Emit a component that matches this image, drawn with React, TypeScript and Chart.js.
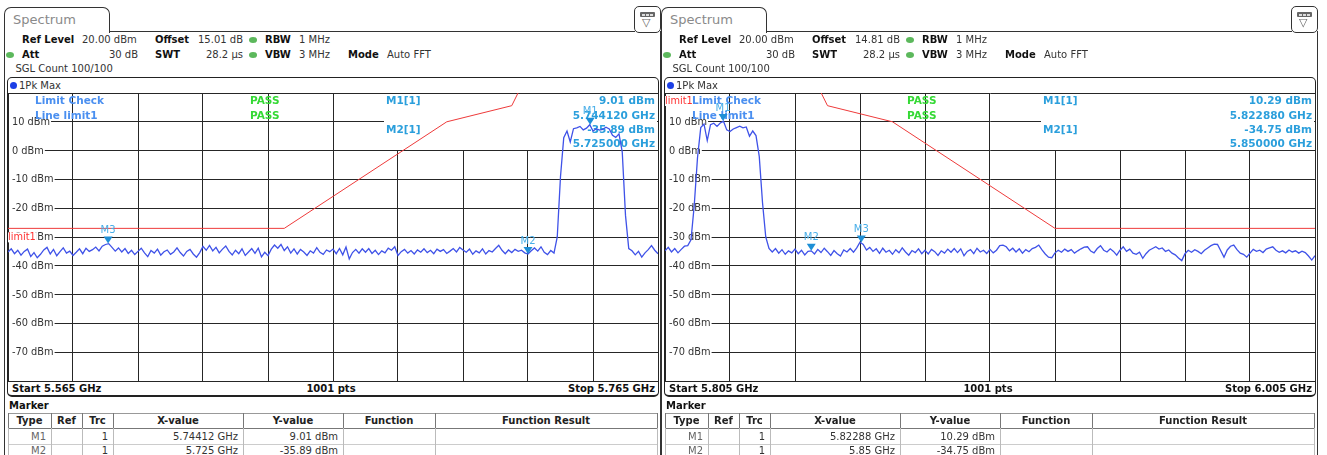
import React, { useEffect, useRef } from "react";
import { Chart, registerables } from "chart.js";

Chart.register(...registerables);

const FONT = '"DejaVu Sans", Verdana, sans-serif';
const GRID = "#262626";

// ---------------- data ----------------
const yTickLevels = [20, 10, 0, -10, -20, -30, -40, -50, -60, -70, -80];
const yLabelLevels = [10, 0, -10, -20, -30, -40, -50, -60, -70];
const xDivisions = 10;
const traceStepGHz = 0.001;

const leftSpan = [5.565, 5.765];
const rightSpan = [5.805, 6.005];

const leftLevels = [
  -35.2, -34.1, -35.8, -34.6, -36.3, -35.0, -34.2, -36.8, -35.4, -37.2,
  -36.0, -34.5, -33.6, -35.9, -34.3, -36.5, -35.1, -33.8, -35.6, -34.9,
  -36.4, -35.3, -34.1, -35.8, -33.9, -35.0, -34.4, -33.5, -34.8, -33.2,
  -32.6, -32.3, -33.6, -34.9, -33.8, -35.2, -34.0, -35.7, -34.6, -36.1,
  -35.0, -33.9, -35.5, -36.8, -34.7, -35.6, -34.2, -36.3, -35.1, -34.5,
  -36.0, -35.2, -33.8, -35.4, -36.6, -35.0, -34.3, -35.9, -37.0, -35.4,
  -33.3, -34.6, -32.9, -34.8, -33.6, -35.5, -34.2, -33.1, -35.0, -36.2,
  -34.6, -35.8, -34.1, -36.4, -35.2, -34.0, -35.7, -33.9, -36.9, -35.3,
  -36.5, -34.2, -32.8, -33.9, -32.6, -34.7, -33.4, -35.6, -34.1, -35.9,
  -34.3, -35.2, -36.4, -34.8, -35.6, -33.7, -35.3, -36.0, -34.5, -35.1,
  -34.2, -35.8, -34.0, -36.2, -33.5, -37.6, -35.4, -34.3, -35.6, -34.1,
  -35.3, -34.0, -35.7, -34.6, -36.1, -34.8, -35.5, -33.9, -34.6, -33.4,
  -36.4, -35.1, -34.3, -35.6, -34.7, -35.9, -34.5, -35.3, -34.1, -35.4,
  -34.6, -35.8, -34.2, -35.0, -34.4, -35.7, -34.9, -34.0, -35.2, -33.6,
  -34.5, -35.3, -34.2, -36.0, -34.8, -35.5, -34.1, -35.9, -34.7, -35.2,
  -34.0, -32.9, -34.6, -35.8, -34.5, -35.4, -34.3, -35.0, -34.6, -35.5,
  -35.9, -34.8, -33.8, -34.9, -33.4, -35.3, -36.1, -34.7, -35.6, -30.0,
  -9.0, 4.5, 6.8, 3.0, 7.6, 7.9, 8.4, 7.2, 7.8, 9.0,
  6.8, 7.6, 7.1, 7.4, 8.1, 7.5, 5.3, 4.6, 5.8, -0.5,
  -22.5, -34.0, -34.8, -36.2, -35.0, -37.0, -35.5, -34.4, -33.0, -34.6, -35.8,
];

const rightLevels = [
  -34.8, -33.6, -35.2, -34.0, -35.5, -34.3, -33.2, -33.0, -31.0, -19.0,
  -2.5, 8.0, 9.2, 3.5, 9.0, 9.5, 8.4, 9.6, 10.2, 7.2,
  6.6, 7.5, 8.0, 8.5, 7.9, 8.2, 5.0, 6.8, 5.2, -2.0,
  -18.0, -30.0, -34.0, -35.2, -34.0, -35.6, -34.4, -36.0, -34.8, -35.5,
  -34.2, -35.8, -34.6, -36.2, -35.0, -34.8, -35.9, -34.3, -35.4, -33.9,
  -35.1, -36.4, -34.7, -35.8, -36.6, -34.5, -35.2, -34.0, -35.3, -33.8,
  -31.8, -32.6, -34.5, -33.6, -35.0, -34.1, -35.7, -33.9, -35.3, -34.6,
  -36.0, -34.4, -35.5, -33.8, -35.2, -36.3, -34.7, -35.4, -34.1, -35.8,
  -34.6, -35.9, -34.3, -35.1, -36.4, -34.8, -35.6, -34.2, -35.3, -34.0,
  -35.4, -34.1, -36.5, -35.0, -34.4, -35.8, -33.9, -35.2, -34.6, -35.7,
  -34.3, -35.5, -34.6, -33.0, -32.8, -33.4, -34.8, -33.9, -35.2, -34.1,
  -35.6, -34.4, -35.1, -34.0, -33.6, -32.8, -34.5, -35.9, -37.0, -37.2,
  -35.5, -34.6, -35.3, -34.2, -35.0, -34.4, -35.6, -34.8, -34.1, -33.5,
  -33.4, -34.9, -35.5, -34.0, -33.0, -34.6, -35.2, -34.1, -35.0, -36.3,
  -34.6, -33.4, -35.0, -34.2, -35.6, -36.0, -35.3, -37.4, -35.8, -34.6,
  -34.0, -33.4, -34.2, -33.8, -35.0, -34.5, -35.6, -36.2, -37.3, -38.2,
  -35.8, -34.6, -35.3, -34.4, -35.0, -35.8, -34.6, -33.8, -33.0, -32.5,
  -32.6, -34.8, -37.0, -34.5, -33.2, -32.8, -34.4, -35.6, -36.0, -37.0,
  -35.6, -34.3, -35.0, -34.6, -35.4, -34.2, -33.8, -33.4, -34.6, -35.3,
  -34.8, -35.5, -34.5, -35.2, -34.8, -35.6, -34.9, -35.4, -36.6, -38.0, -36.5,
];

const leftLimitFreqs = [5.565, 5.65, 5.7, 5.72, 5.725];
const leftLimitLevels = [-27, -27, 10, 15.6, 27];
const rightLimitFreqs = [5.85, 5.855, 5.875, 5.925, 6.005];
const rightLimitLevels = [27, 15.6, 10, -27, -27];

const markerNames = ["M1", "M2", "M3"];
const leftMarkerFreqs = [5.74412, 5.725, 5.5958];
const leftMarkerLevels = [9.01, -35.89, -32.3];
const rightMarkerFreqs = [5.82288, 5.85, 5.8654];
const rightMarkerLevels = [10.29, -34.75, -31.9];

const leftInfo = ["9.01 dBm", "5.744120 GHz", "-35.89 dBm", "5.725000 GHz"];
const rightInfo = ["10.29 dBm", "5.822880 GHz", "-34.75 dBm", "5.850000 GHz"];

const limitCheckLabels = ["Limit Check", "Line limit1"];
const limitCheckResults = ["PASS", "PASS"];

const leftOffset = "15.01 dB";
const rightOffset = "14.81 dB";

const leftRows = [
  ["M1", "", "1", "5.74412 GHz", "9.01 dBm", "", ""],
  ["M2", "", "1", "5.725 GHz", "-35.89 dBm", "", ""],
];
const rightRows = [
  ["M1", "", "1", "5.82288 GHz", "10.29 dBm", "", ""],
  ["M2", "", "1", "5.85 GHz", "-34.75 dBm", "", ""],
];

const tableHeaders = ["Type", "Ref", "Trc", "X-value", "Y-value", "Function", "Function Result"];
const tableCols = [8, 51, 82, 113, 243, 343, 435, 657];
const cellAlign = ["right", "right", "right", "right", "right", "left", "left"];

type PanelCfg = {
  ox: number;
  start: number;
  stop: number;
  levels: number[];
  limitFreqs: number[];
  limitLevels: number[];
  markerFreqs: number[];
  markerLevels: number[];
  info: string[];
  offset: string;
  rows: string[][];
};

const panels: PanelCfg[] = [
  {
    ox: 0, start: leftSpan[0], stop: leftSpan[1], levels: leftLevels,
    limitFreqs: leftLimitFreqs, limitLevels: leftLimitLevels,
    markerFreqs: leftMarkerFreqs, markerLevels: leftMarkerLevels,
    info: leftInfo, offset: leftOffset, rows: leftRows,
  },
  {
    ox: 657, start: rightSpan[0], stop: rightSpan[1], levels: rightLevels,
    limitFreqs: rightLimitFreqs, limitLevels: rightLimitLevels,
    markerFreqs: rightMarkerFreqs, markerLevels: rightMarkerLevels,
    info: rightInfo, offset: rightOffset, rows: rightRows,
  },
];

// ---------------- helpers ----------------
function Txt(props: {
  x: number; cy: number; children: React.ReactNode; bold?: boolean;
  align?: "left" | "right" | "center"; color?: string; size?: number; w?: number;
}) {
  const { x, cy, children, bold, align = "left", color = "#222", size = 10, w = 300 } = props;
  const style: React.CSSProperties = {
    position: "absolute", top: cy - 7, height: 14, lineHeight: "14px",
    fontSize: size, fontWeight: bold ? "bold" : "normal", color,
    whiteSpace: "nowrap", fontFamily: FONT,
  };
  if (align === "left") style.left = x;
  else if (align === "right") { style.left = x - w; style.width = w; style.textAlign = "right"; }
  else { style.left = x - w / 2; style.width = w; style.textAlign = "center"; }
  return <div style={style}>{children}</div>;
}

function Box(p: { l: number; t: number; w: number; h: number; bg: string }) {
  return <div style={{ position: "absolute", left: p.l, top: p.t, width: p.w, height: p.h, background: p.bg }} />;
}

function Dot(p: { l: number; t: number; w: number; h: number; bg: string }) {
  return (
    <div style={{ position: "absolute", left: p.l, top: p.t, width: p.w, height: p.h, borderRadius: "50%", background: p.bg }} />
  );
}

function limitAt(freqs: number[], levels: number[], f: number): number {
  if (f <= freqs[0]) return levels[0];
  for (let i = 1; i < freqs.length; i++) {
    if (f <= freqs[i]) {
      const t = (f - freqs[i - 1]) / (freqs[i] - freqs[i - 1]);
      return levels[i - 1] + t * (levels[i] - levels[i - 1]);
    }
  }
  return levels[levels.length - 1];
}

function makeOverlay(cfg: PanelCfg) {
  return {
    id: "overlay",
    beforeDatasetsDraw(chart: any) {
      const { ctx, chartArea: a } = chart;
      const ys = chart.scales.y;
      ctx.save();
      ctx.textBaseline = "middle";
      // marker info box
      const bx = a.left + 376;
      const row0 = Math.round(ys.getPixelForValue(0) - 0.5);
      ctx.fillStyle = "#fff";
      ctx.fillRect(bx, a.top + 1, a.right - 1 - bx, row0 - (a.top + 1));
      // level labels
      ctx.font = `9.8px ${FONT}`;
      ctx.textAlign = "left";
      for (const lv of yLabelLevels) {
        const py = ys.getPixelForValue(lv);
        const t = `${lv} dBm`;
        const w = ctx.measureText(t).width;
        ctx.fillStyle = "#fff";
        ctx.fillRect(a.left + 1, py - 5, w + 4, 10);
        ctx.fillStyle = "#333";
        ctx.fillText(t, a.left + 4, py + 0.5);
      }
      // limit line name
      const lStart = limitAt(cfg.limitFreqs, cfg.limitLevels, cfg.start);
      const lcy = lStart <= 20 && lStart >= -80 ? ys.getPixelForValue(lStart) + 9 : a.top + 8;
      ctx.font = `9.8px ${FONT}`;
      const lw = ctx.measureText("limit1").width;
      ctx.fillStyle = "#fff";
      ctx.fillRect(a.left, lcy - 5, lw + 1, 10);
      ctx.fillStyle = "#ff3030";
      ctx.fillText("limit1", a.left, lcy + 0.5);
      // limit check
      ctx.font = `bold 10.5px ${FONT}`;
      const rowsY = [a.top + 8, a.top + 23];
      ctx.fillStyle = "#4a8ff0";
      limitCheckLabels.forEach((t, i) => ctx.fillText(t, a.left + 27, rowsY[i]));
      ctx.fillStyle = "#35d935";
      limitCheckResults.forEach((t, i) => ctx.fillText(t, a.left + 242, rowsY[i]));
      // marker info
      ctx.fillStyle = "#2b9fdc";
      ctx.fillText("M1[1]", a.left + 378, a.top + 8);
      ctx.fillText("M2[1]", a.left + 378, a.top + 37);
      ctx.textAlign = "right";
      const infoY = [a.top + 8, a.top + 23, a.top + 37, a.top + 51];
      cfg.info.forEach((t, i) => ctx.fillText(t, a.right - 3, infoY[i]));
      ctx.restore();
    },
    afterDatasetsDraw(chart: any) {
      const { ctx } = chart;
      const xs = chart.scales.x;
      const ys = chart.scales.y;
      ctx.save();
      cfg.markerFreqs.forEach((f, i) => {
        const px = xs.getPixelForValue(f);
        const py = ys.getPixelForValue(cfg.markerLevels[i]);
        ctx.fillStyle = "#1e8fd6";
        ctx.beginPath();
        ctx.moveTo(px - 4.5, py - 7);
        ctx.lineTo(px + 4.5, py - 7);
        ctx.lineTo(px, py);
        ctx.closePath();
        ctx.fill();
        ctx.font = `10px ${FONT}`;
        ctx.textAlign = "center";
        ctx.textBaseline = "middle";
        ctx.fillStyle = "#48aee8";
        ctx.fillText(markerNames[i], px, py - 13);
      });
      ctx.restore();
    },
  };
}

function PlotCanvas({ cfg }: { cfg: PanelCfg }) {
  const ref = useRef<HTMLCanvasElement>(null);
  useEffect(() => {
    const canvas = ref.current;
    if (!canvas) return;
    const span = cfg.stop - cfg.start;
    const xTicks = Array.from({ length: xDivisions + 1 }, (_, k) => cfg.start + (span * k) / xDivisions);
    const trace = cfg.levels.map((v, i) => ({ x: cfg.start + i * traceStepGHz, y: v }));
    const limit = cfg.limitFreqs.map((f, i) => ({ x: f, y: cfg.limitLevels[i] }));
    const chart = new Chart(canvas, {
      type: "line",
      data: {
        datasets: [
          { data: limit, borderColor: "#ee3a3a", borderWidth: 1, pointRadius: 0, fill: false, order: 2 },
          { data: trace, borderColor: "#3f52e8", borderWidth: 1.3, pointRadius: 0, fill: false, order: 1 },
        ],
      } as any,
      options: {
        responsive: false,
        maintainAspectRatio: false,
        animation: false,
        events: [],
        layout: { padding: 1 },
        plugins: { legend: { display: false }, tooltip: { enabled: false }, title: { display: false } },
        scales: {
          x: {
            type: "linear", min: cfg.start, max: cfg.stop,
            afterBuildTicks: (s: any) => { s.ticks = xTicks.map((v) => ({ value: v })); },
            ticks: { display: false },
            grid: { color: GRID, lineWidth: 1, drawTicks: false },
            border: { display: true, color: GRID, width: 1 },
          },
          y: {
            type: "linear", min: -80, max: 20,
            afterBuildTicks: (s: any) => { s.ticks = yTickLevels.map((v) => ({ value: v })); },
            ticks: { display: false },
            grid: { color: GRID, lineWidth: 1, drawTicks: false },
            border: { display: true, color: GRID, width: 1 },
          },
        },
      } as any,
      plugins: [makeOverlay(cfg)],
    });
    return () => chart.destroy();
  }, [cfg]);
  return (
    <canvas
      ref={ref}
      width={652}
      height={290}
      style={{ position: "absolute", left: 7, top: 92, width: 652, height: 290 }}
    />
  );
}

function Panel({ cfg }: { cfg: PanelCfg }) {
  const green = "#5cb85c";
  return (
    <div style={{ position: "absolute", left: cfg.ox, top: 0, width: 662, height: 455 }}>
      {/* tab */}
      <div
        style={{
          position: "absolute", left: 4, top: 7, width: 106, height: 26, boxSizing: "border-box",
          border: "1px solid #333", borderBottom: "none", borderRadius: "7px 7px 0 0", background: "#fff",
        }}
      >
        <div style={{ position: "absolute", left: 8, top: 4, fontSize: 13, lineHeight: "16px", color: "#8a8a8a", fontFamily: FONT }}>
          Spectrum
        </div>
      </div>
      <Box l={109} t={31} w={526} h={1} bg="#333" />
      <Box l={4} t={32} w={1} h={430} bg="#333" />
      <Box l={660} t={31} w={1} h={430} bg="#333" />
      {/* icon */}
      <div
        style={{
          position: "absolute", left: 634, top: 6, width: 27, height: 27, boxSizing: "border-box",
          border: "1px solid #333", borderRadius: 5, background: "#fff",
        }}
      >
        <div style={{ position: "absolute", left: 5, top: 5, width: 15, height: 5, background: "#666", borderRadius: 1 }}>
          <div style={{ position: "absolute", left: 2, top: 1.5, width: 2.5, height: 2, background: "#ddd" }} />
          <div style={{ position: "absolute", left: 6.2, top: 1.5, width: 2.5, height: 2, background: "#ddd" }} />
          <div style={{ position: "absolute", left: 10.4, top: 1.5, width: 2.5, height: 2, background: "#ddd" }} />
        </div>
        <div style={{ position: "absolute", left: 7, top: 10, fontSize: 11, lineHeight: "12px", color: "#666", fontFamily: FONT }}>▽</div>
      </div>
      {/* header */}
      <Txt x={22} cy={40} bold color="#111">Ref Level</Txt>
      <Txt x={82} cy={40} color="#333">20.00 dBm</Txt>
      <Txt x={155} cy={40} bold color="#111">Offset</Txt>
      <Txt x={243} cy={40} align="right" color="#333" w={60}>{cfg.offset}</Txt>
      <Dot l={249} t={37} w={8} h={6} bg={green} />
      <Txt x={265} cy={40} bold color="#111">RBW</Txt>
      <Txt x={299} cy={40} color="#333">1 MHz</Txt>
      <Dot l={6} t={51.5} w={8} h={6} bg={green} />
      <Txt x={22} cy={54.5} bold color="#111">Att</Txt>
      <Txt x={138} cy={54.5} align="right" color="#333" w={60}>30 dB</Txt>
      <Txt x={155} cy={54.5} bold color="#111">SWT</Txt>
      <Txt x={243} cy={54.5} align="right" color="#333" w={60}>28.2 µs</Txt>
      <Dot l={249} t={51.5} w={8} h={6} bg={green} />
      <Txt x={265} cy={54.5} bold color="#111">VBW</Txt>
      <Txt x={299} cy={54.5} color="#333">3 MHz</Txt>
      <Txt x={348} cy={54.5} bold color="#111">Mode</Txt>
      <Txt x={387} cy={54.5} color="#333">Auto FFT</Txt>
      <Txt x={15.5} cy={69} color="#333">SGL Count 100/100</Txt>
      {/* plot box */}
      <div
        style={{
          position: "absolute", left: 7, top: 77, width: 652, height: 320, boxSizing: "border-box",
          border: "1px solid #222", borderBottomWidth: 2, borderRadius: 5,
        }}
      />
      <Dot l={10} t={82} w={7} h={7} bg="#1b3fe6" />
      <Txt x={19} cy={85.5} color="#333">1Pk Max</Txt>
      <PlotCanvas cfg={cfg} />
      <Txt x={12} cy={389} bold color="#111">{`Start ${cfg.start.toFixed(3)} GHz`}</Txt>
      <Txt x={331} cy={389} bold align="center" color="#111">1001 pts</Txt>
      <Txt x={655} cy={389} bold align="right" color="#111">{`Stop ${cfg.stop.toFixed(3)} GHz`}</Txt>
      {/* marker table */}
      <Txt x={9} cy={405.5} bold color="#111">Marker</Txt>
      <Box l={8} t={413} w={650} h={1} bg="#999" />
      <Box l={8} t={428} w={650} h={1} bg="#777" />
      <Box l={8} t={444} w={650} h={1} bg="#ccc" />
      {tableCols.map((x, i) => (
        <React.Fragment key={"c" + i}>
          <Box l={x} t={413} w={1} h={15} bg="#777" />
          <Box l={x} t={428} w={1} h={30} bg="#bbb" />
        </React.Fragment>
      ))}
      {tableHeaders.map((h, i) => (
        <Txt key={"h" + i} x={(tableCols[i] + tableCols[i + 1]) / 2} cy={421} bold align="center" color="#222" w={200}>
          {h}
        </Txt>
      ))}
      {cfg.rows.map((row, r) =>
        row.map((c, i) => (
          <Txt
            key={`r${r}-${i}`}
            x={cellAlign[i] === "right" ? tableCols[i + 1] - 5 : tableCols[i] + 4}
            cy={r === 0 ? 436.5 : 450.5}
            align={cellAlign[i] as any}
            color={i === 0 ? "#666" : "#333"}
            w={120}
          >
            {c}
          </Txt>
        ))
      )}
    </div>
  );
}

export default function App() {
  return (
    <div
      style={{
        position: "absolute", left: 0, top: 0, width: 1327, height: 455, overflow: "hidden",
        background: "#fff", fontFamily: FONT,
      }}
    >
      {panels.map((p, i) => (
        <Panel key={i} cfg={p} />
      ))}
    </div>
  );
}
